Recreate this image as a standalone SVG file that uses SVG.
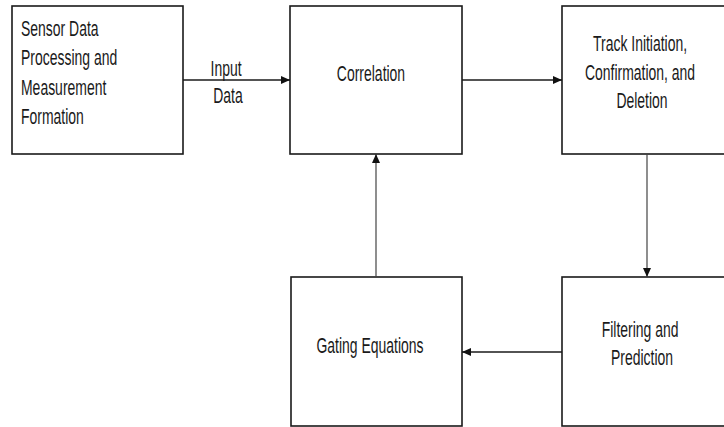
<svg xmlns="http://www.w3.org/2000/svg" width="724" height="427" viewBox="0 0 724 427">
  <style>
    .box { fill: #ffffff; stroke: #1a1a1a; stroke-width: 1.6; }
    .lbl { font-family: "Liberation Sans", Arial, sans-serif; font-size: 22px; fill: #1a1a1a; }
    .mid { text-anchor: middle; }
    .edge { stroke: #1a1a1a; stroke-width: 1.6; fill: none; }
    .thin { stroke: #444444; stroke-width: 1.2; fill: none; }
  </style>
  <defs>
    <marker id="arrow" markerWidth="9" markerHeight="8" refX="9" refY="4" orient="auto" markerUnits="userSpaceOnUse">
      <path d="M0,0 L9,4 L0,8 Z" fill="#111111"/>
    </marker>
  </defs>
  <rect width="724" height="427" fill="#ffffff"/>

  <g id="sensor">
    <rect class="box" x="12" y="6" width="171" height="148"/>
    <text class="lbl" transform="translate(21,0) scale(0.635,1)">
      <tspan x="0" y="36">Sensor Data</tspan>
      <tspan x="0" y="65">Processing and</tspan>
      <tspan x="0" y="95">Measurement</tspan>
      <tspan x="0" y="124">Formation</tspan>
    </text>
  </g>

  <g id="correlation">
    <rect class="box" x="290" y="6" width="172" height="148"/>
    <text class="lbl mid" transform="translate(371,81) scale(0.635,1)">Correlation</text>
  </g>

  <g id="track">
    <rect class="box" x="562" y="6" width="170" height="148"/>
    <text class="lbl mid" transform="translate(642,0) scale(0.635,1)">
      <tspan x="0" y="51">Track Initiation,</tspan>
      <tspan x="0" y="80">Confirmation, and</tspan>
      <tspan x="0" y="108">Deletion</tspan>
    </text>
  </g>

  <g id="filtering">
    <rect class="box" x="562" y="277" width="170" height="149"/>
    <text class="lbl mid" transform="translate(642,0) scale(0.635,1)">
      <tspan x="0" y="337">Filtering and</tspan>
      <tspan x="0" y="365">Prediction</tspan>
    </text>
  </g>

  <g id="gating">
    <rect class="box" x="291" y="277" width="171" height="149"/>
    <text class="lbl mid" transform="translate(370,353) scale(0.635,1)">Gating Equations</text>
  </g>

  <g id="connectors">
    <line class="edge" x1="183" y1="80" x2="290" y2="80" marker-end="url(#arrow)"/>
    <text class="lbl mid" transform="translate(228,0) scale(0.635,1)">
      <tspan x="0" y="76">Input</tspan>
      <tspan x="0" y="103">Data</tspan>
    </text>
    <line class="edge" x1="462" y1="80" x2="562" y2="80" marker-end="url(#arrow)"/>
    <line class="thin" x1="647" y1="154" x2="647" y2="277" marker-end="url(#arrow)"/>
    <line class="edge" x1="562" y1="352" x2="462" y2="352" marker-end="url(#arrow)"/>
    <line class="thin" x1="376" y1="277" x2="376" y2="154" marker-end="url(#arrow)"/>
  </g>
</svg>
